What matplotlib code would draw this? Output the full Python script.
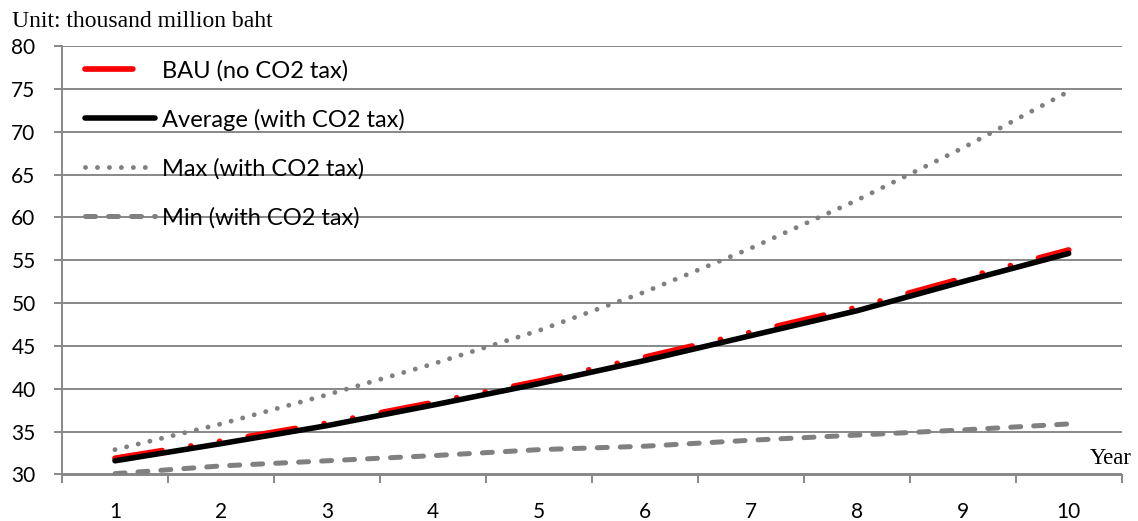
import matplotlib
matplotlib.use("Agg")
import matplotlib.pyplot as plt

years = [1, 2, 3, 4, 5, 6, 7, 8, 9, 10]
year_labels = ["1", "2", "3", "4", "5", "6", "7", "8", "9", "10"]
bau = [31.9, 33.9, 36.0, 38.4, 40.9, 43.7, 46.6, 49.5, 52.9, 56.2]
average = [31.6, 33.6, 35.7, 38.1, 40.6, 43.3, 46.2, 49.1, 52.5, 55.8]
max_tax = [32.9, 35.9, 39.3, 42.9, 46.8, 51.3, 56.4, 62.0, 68.1, 74.7]
min_tax = [30.1, 31.0, 31.6, 32.2, 32.9, 33.3, 34.0, 34.6, 35.2, 35.9]
yticks = [30, 35, 40, 45, 50, 55, 60, 65, 70, 75, 80]

W, H = 1138, 521
fig = plt.figure(figsize=(W / 100, H / 100), dpi=100)
ax = fig.add_axes([62 / W, 1 - 474.5 / H, (1121.7 - 62) / W, (474.5 - 46) / H])

grid_c = "#888888"
ax.set_ylim(30, 80)
ax.set_xlim(0.5, 10.5)
ax.set_yticks(yticks)
ax.yaxis.grid(True, color=grid_c, linewidth=1.4)
ax.set_axisbelow(True)
for s in ["top", "right"]:
    ax.spines[s].set_visible(False)
for s in ["left", "bottom"]:
    ax.spines[s].set_color(grid_c)
    ax.spines[s].set_linewidth(1.4)

tick_font = "Lato"
ax.set_xticks([x + 0.5 for x in range(0, 11)])
ax.set_xticklabels([])
ax.set_xticks(years, minor=True)
ax.set_xticklabels(year_labels, minor=True, fontsize=15, fontfamily=tick_font)
ax.tick_params(axis="x", which="major", length=6, width=1.4, color=grid_c, direction="out")
ax.tick_params(axis="x", which="minor", length=0, pad=20)
ax.tick_params(axis="y", length=6, width=1.4, color=grid_c, direction="out", pad=13)
for lab in ax.get_yticklabels():
    lab.set_fontsize(15)
    lab.set_fontfamily(tick_font)

l_bau, = ax.plot(years, bau, color="#FF0000", linewidth=4.1, solid_capstyle="round",
                 dash_capstyle="round", label="BAU (no CO2 tax)", zorder=3)
l_bau.set_dashes([8.4, 5.1, 0.01, 5.1, 0.01, 5.1])
l_avg, = ax.plot(years, average, color="black", linewidth=4.0, solid_capstyle="round",
                 label="Average (with CO2 tax)", zorder=4)
l_max, = ax.plot(years, max_tax, color="#808080", linewidth=3.5, dash_capstyle="round",
                 label="Max (with CO2 tax)", zorder=3)
l_max.set_dashes([0.01, 2.45])
l_min, = ax.plot(years, min_tax, color="#808080", linewidth=3.6, dash_capstyle="round",
                 label="Min (with CO2 tax)", zorder=3)
l_min.set_dashes([2.0, 2.6])

leg = ax.legend(handles=[l_bau, l_avg, l_max, l_min], loc="upper left",
                bbox_to_anchor=(85 / W, 1 - 60 / H), bbox_transform=fig.transFigure,
                frameon=False, borderpad=0, borderaxespad=0,
                handlelength=2.95, handletextpad=0.32, labelspacing=1.15,
                prop={"family": tick_font, "size": 17})

fig.text(12 / W, 1 - 27.3 / H, "Unit: thousand million baht", fontfamily="Liberation Serif",
         fontsize=17, ha="left", va="baseline")
fig.text(1131.7 / W, 1 - 464.3 / H, "Year", fontfamily="Liberation Serif",
         fontsize=16.4, ha="right", va="baseline")

fig.savefig("out.png", dpi=100)
